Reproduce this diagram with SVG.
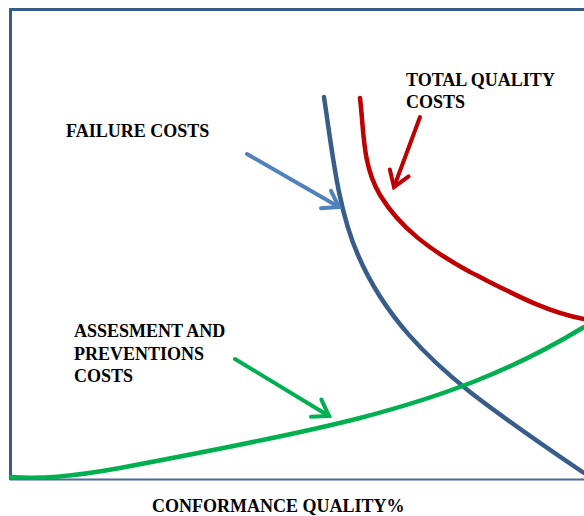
<svg xmlns="http://www.w3.org/2000/svg" width="584" height="516" viewBox="0 0 584 516">
<defs>
<style>
.lbl{font-family:"Liberation Serif","Times New Roman",serif;font-weight:bold;font-size:18px;fill:#000}
.crv{fill:none;stroke-width:4.5;stroke-linecap:round}
.arr{fill:none;stroke-width:4;stroke-linecap:round}
</style>
<marker id="hb" markerUnits="userSpaceOnUse" markerWidth="30" markerHeight="30" refX="0" refY="0" viewBox="-20 -15 30 30" orient="auto" overflow="visible"><path d="M-15,-10 L0,0 L-15,10" fill="none" stroke="#4F81BD" stroke-width="4" stroke-linecap="round" stroke-linejoin="miter"/></marker>
<marker id="hr" markerUnits="userSpaceOnUse" markerWidth="30" markerHeight="30" refX="0" refY="0" viewBox="-20 -15 30 30" orient="auto" overflow="visible"><path d="M-15,-10 L0,0 L-15,10" fill="none" stroke="#C00000" stroke-width="4" stroke-linecap="round"/></marker>
<marker id="hg" markerUnits="userSpaceOnUse" markerWidth="30" markerHeight="30" refX="0" refY="0" viewBox="-20 -15 30 30" orient="auto" overflow="visible"><path d="M-15,-10 L0,0 L-15,10" fill="none" stroke="#00B050" stroke-width="4" stroke-linecap="round"/></marker>
</defs>
<rect width="584" height="516" fill="#fff"/>
<g id="frame">
<path d="M10.5,480 L10.5,9.5 L584,9.5" fill="none" stroke="#385D8A" stroke-width="3"/>
<path d="M10,479.5 L584,479.5" fill="none" stroke="#4A6B96" stroke-width="2"/>
</g>
<g id="curves">
<path id="failure-curve" class="crv" stroke="#385D8A" d="M324,97 C332,150 338,210 358,255 C385,318 430,360 470,392 C510,423 550,450 584,473"/>
<path id="total-curve" class="crv" stroke="#C00000" d="M360,98 C364,130 362,165 380,195 C400,228 430,250 470,272 C510,292 545,312 584,319"/>
<path id="assessment-curve" class="crv" stroke="#00B050" d="M11,477 C40,479 70,477 120,468 C200,453 290,436 360,418 C440,397 510,372 584,327"/>
</g>
<g id="connectors">
<line class="arr" stroke="#4F81BD" x1="247" y1="154" x2="339" y2="207" marker-end="url(#hb)"/>
<line class="arr" stroke="#C00000" x1="420" y1="117" x2="394" y2="187" marker-end="url(#hr)"/>
<line class="arr" stroke="#00B050" x1="235" y1="359" x2="329" y2="416" marker-end="url(#hg)"/>
</g>
<g id="failure-label"><text class="lbl" x="66" y="137">FAILURE COSTS</text></g>
<g id="total-label"><text class="lbl" x="406" y="86">TOTAL QUALITY</text><text class="lbl" x="406" y="108">COSTS</text></g>
<g id="assessment-label"><text class="lbl" x="74" y="337">ASSESMENT AND</text><text class="lbl" x="74" y="360">PREVENTIONS</text><text class="lbl" x="74" y="382">COSTS</text></g>
<g id="axis-label"><text class="lbl" x="152" y="512">CONFORMANCE QUALITY%</text></g>
</svg>
